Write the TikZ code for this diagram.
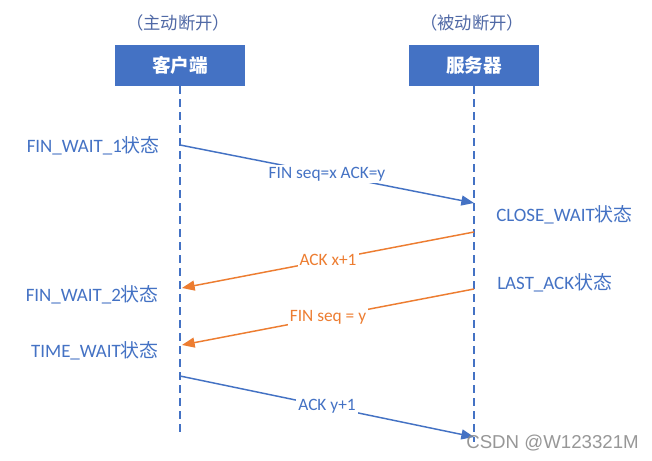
\documentclass[tikz,border=0pt]{standalone}
\usepackage{fontspec}
\setmainfont{Carlito}
\newfontfamily\cjk{Noto Sans CJK SC}
\newfontfamily\wmfont{Liberation Sans}
\usetikzlibrary{arrows.meta}
\definecolor{obl}{HTML}{4472C4}
\definecolor{oor}{HTML}{ED7D31}
\definecolor{hdrc}{HTML}{5069A6}
\begin{document}
\begin{tikzpicture}[x=0.75pt,y=-0.75pt,
  party/.style={fill=obl, text=white, minimum width=97.5pt, minimum height=30.75pt, inner sep=0pt, font=\cjk\bfseries\fontsize{14}{16}\selectfont},
  life/.style={draw=obl, line width=0.9pt, dash pattern=on 6pt off 3.75pt},
  msgb/.style={draw=obl, line width=1.1pt, -{Triangle[length=9.5pt,width=7.5pt]}, color=obl},
  msgo/.style={draw=oor, line width=1.1pt, -{Triangle[length=9.5pt,width=7.5pt]}, color=oor},
  lbl/.style={fill=white, inner sep=1.5pt, font=\fontsize{13}{15}\selectfont},
  state/.style={text=obl, font=\fontsize{14.2}{16}\selectfont, inner sep=0pt},
  hdr/.style={text=hdrc, font=\cjk\fontsize{13}{15}\selectfont}]
\useasboundingbox (0,0) rectangle (652,460);
\fill[white] (0,0) rectangle (652,460);
% headers and parties
\node[hdr] (hc) at (178,23) {（主动断开）};
\node[hdr] (hs) at (472,23) {（被动断开）};
\node[party] (c) at (180,65.5) {客户端};
\node[party] (s) at (474,65.5) {服务器};
% lifelines
\coordinate (ce) at (180,436);
\coordinate (se) at (474,442);
\draw[life] (c.south) -- (ce);
\draw[life] (s.south) -- (se);
% message end points
\coordinate (c1) at (180,145);
\coordinate (s1) at (474,203);
\coordinate (s2) at (474,232);
\coordinate (c2) at (182,288);
\coordinate (s3) at (474,289);
\coordinate (c3) at (182,345);
\coordinate (c4) at (180,376);
\coordinate (s4) at (474,437);
% messages
\draw[msgb] (c1) -- node[lbl, text=obl] (m1) {FIN seq=x ACK=y} (s1);
\draw[msgo] (s2) -- node[lbl, text=oor] (m2) {ACK x+1} (c2);
\draw[msgo] (s3) -- node[lbl, text=oor] (m3) {FIN seq = y} (c3);
\draw[msgb] (c4) -- node[lbl, text=obl] (m4) {ACK y+1} (s4);
% states
\node[state, anchor=base east] (fw1) at (160,152) {FIN\_WAIT\_1{\cjk 状态}};
\node[state, anchor=base west] (cw) at (496,221) {CLOSE\_WAIT{\cjk 状态}};
\node[state, anchor=base east] (fw2) at (159,301) {FIN\_WAIT\_2{\cjk 状态}};
\node[state, anchor=base west] (la) at (497,289) {LAST\_ACK{\cjk 状态}};
\node[state, anchor=base east] (tw) at (159,357.5) {TIME\_WAIT{\cjk 状态}};
% watermark
\node[anchor=base west, inner sep=0pt, text=black!45, opacity=0.9, font=\wmfont\fontsize{14}{16}\selectfont] (wm) at (466,448) {CSDN @W123321M};
\end{tikzpicture}
\end{document}
